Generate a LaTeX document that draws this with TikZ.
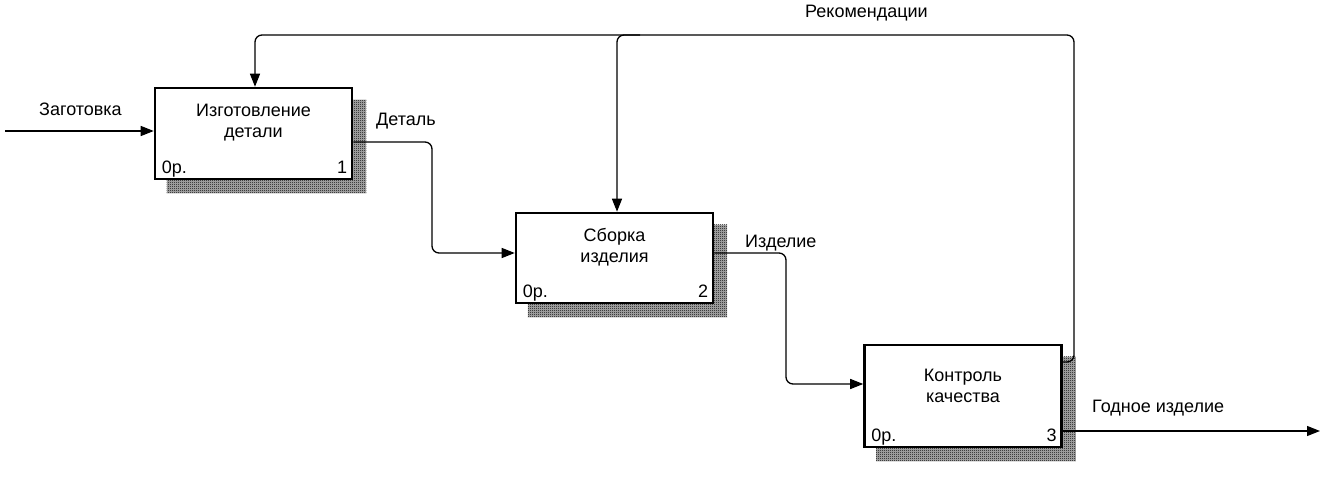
\documentclass[tikz,border=0pt]{standalone}
\usepackage{fontspec}
\setmainfont{Liberation Sans}
\usetikzlibrary{arrows.meta,patterns,backgrounds,calc}
\pgfdeclarepatternformonly{dither}{\pgfpointorigin}{\pgfqpoint{2pt}{2pt}}{\pgfqpoint{2pt}{2pt}}{%
  \pgfpathrectangle{\pgfpointorigin}{\pgfqpoint{1pt}{1pt}}%
  \pgfpathrectangle{\pgfqpoint{1pt}{1pt}}{\pgfqpoint{1pt}{1pt}}%
  \pgfusepath{fill}}
\begin{document}
\begin{tikzpicture}[x=1pt,y=-1pt,
  func/.style={draw,line width=2.6pt,fill=white,inner sep=0pt,minimum width=197pt},
  conn/.style={line width=1.3pt,rounded corners=7pt},
  arr/.style={conn,-{Triangle[length=13pt,width=10pt]}},
  txt/.style={font=\fontsize{18}{21}\selectfont,inner sep=0pt},
  ttl/.style={txt,align=center},
  lbl/.style={txt,anchor=base west},
  shadebase/.style={fill=black!30},
  shade/.style={pattern=dither,pattern color=black}]
\useasboundingbox (0,0) rectangle (1325,479);
% boxes
\node[func,minimum height=91pt] (b1) at (253.5,133.5) {};
\node[func,minimum height=90pt] (b2) at (614.5,258) {};
\node[func,minimum height=102pt] (b3) at (963,396) {};
% shadows
\begin{scope}[on background layer]
  \foreach \b in {b1,b2,b3}{
    \fill[shadebase] ([shift={(13,13)}]\b.north west) rectangle ([shift={(13,13)}]\b.south east);
    \fill[shade] ([shift={(13,13)}]\b.north west) rectangle ([shift={(13,13)}]\b.south east);
  }
\end{scope}
% titles
\node[ttl] (t1) at (253.5,123) {Изготовление\\детали};
\node[ttl] (t2) at (614.5,247) {Сборка\\изделия};
\node[ttl] (t3) at (963,385.5) {Контроль\\качества};
\foreach \b/\n in {b1/1,b2/2,b3/3}{
  \node[txt,anchor=base west] (c\n) at ([shift={(8,-7)}]\b.south west) {0р.};
  \node[txt,anchor=base east] (n\n) at ([shift={(-6,-7)}]\b.south east) {\n};
}
% connectors
\coordinate (in0) at (5,131);
\coordinate (out0) at (1320,431);
\draw[arr] (in0) -- (in0 -| b1.west);
\draw[arr] ([yshift=-8.5pt]b1.east) -- (432,142) -- (432,253) -- ([yshift=5pt]b2.west);
\draw[arr] ([yshift=5pt]b2.east) -- (786,253) -- (786,384) -- ([yshift=12pt]b3.west);
\draw[arr] ([yshift=-35pt]b3.east) -- (out0);
\draw[arr] ([yshift=34pt]b3.east) -- (1074,362) -- (1074,35) -- (255,35) -- ([xshift=1.5pt]b1.north);
\draw[arr] (640,35) -- (617,35) -- ([xshift=2.5pt]b2.north);
% labels
\node[lbl] (l1) at (39,115) {Заготовка};
\node[lbl] (l2) at (376,125) {Деталь};
\node[lbl] (l3) at (745,247) {Изделие};
\node[lbl] (l4) at (805,17) {Рекомендации};
\node[lbl] (l5) at (1092,412) {Годное изделие};
\end{tikzpicture}
\end{document}
